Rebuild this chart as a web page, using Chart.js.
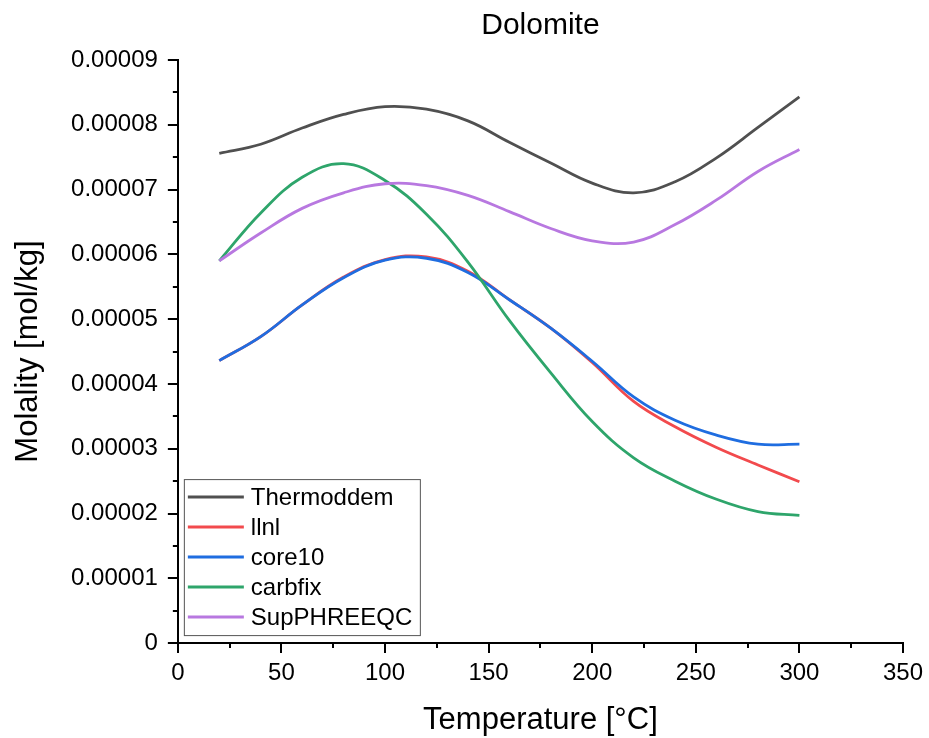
<!DOCTYPE html>
<html>
<head>
<meta charset="utf-8">
<script src="https://cdn.jsdelivr.net/npm/chart.js@4.4.0/dist/chart.umd.min.js"></script>
<style>
  html, body { margin: 0; padding: 0; background: #fff; }
  #wrap { width: 929px; height: 738px; }
</style>
</head>
<body>
<div id="wrap"><canvas id="chart"></canvas></div>
<script>
// temperatures in °C, molalities in units of 1e-5 mol/kg
const temps = [20, 40, 60, 80, 100, 120, 140, 160, 180, 200, 220, 240, 260, 280, 300];
const thermoddem = [7.56, 7.70, 7.95, 8.16, 8.28, 8.24, 8.06, 7.73, 7.41, 7.10, 6.95, 7.12, 7.49, 7.96, 8.43];
const llnl = [4.36, 4.73, 5.22, 5.65, 5.92, 5.96, 5.74, 5.30, 4.86, 4.33, 3.73, 3.34, 3.02, 2.75, 2.49];
const core10 = [4.36, 4.73, 5.22, 5.64, 5.91, 5.94, 5.72, 5.30, 4.86, 4.35, 3.80, 3.44, 3.21, 3.07, 3.07];
const carbfix = [5.90, 6.64, 7.19, 7.40, 7.14, 6.62, 5.88, 4.98, 4.17, 3.42, 2.86, 2.50, 2.22, 2.03, 1.97];
const supphreeqc = [5.90, 6.33, 6.71, 6.95, 7.09, 7.06, 6.91, 6.66, 6.40, 6.21, 6.19, 6.46, 6.84, 7.28, 7.62];

const seriesNames = ['Thermoddem', 'llnl', 'core10', 'carbfix', 'SupPHREEQC'];
const seriesValues = [thermoddem, llnl, core10, carbfix, supphreeqc];
const seriesColors = ['#505050', '#f24a4d', '#1f6de0', '#2ea56b', '#b878e0'];

const FONT = "'Liberation Sans', Arial, sans-serif";

const datasets = seriesNames.map((name, i) => ({
  label: name,
  data: temps.map((t, j) => ({ x: t, y: seriesValues[i][j] * 1e-5 })),
  borderColor: seriesColors[i],
  backgroundColor: seriesColors[i],
  borderWidth: 2.8,
  pointRadius: 0,
  tension: 0.4,
  fill: false,
  order: seriesNames.length - i
}));

// outward major/minor ticks like the original
const tickPlugin = {
  id: 'ticks',
  afterDraw(chart) {
    const ctx = chart.ctx;
    const xs = chart.scales.x, ys = chart.scales.y;
    const area = chart.chartArea;
    ctx.save();
    ctx.strokeStyle = '#000';
    ctx.lineWidth = 2;
    for (let v = xs.min; v <= xs.max + 1e-9; v += 25) {
      const px = Math.round(xs.getPixelForValue(v));
      const len = (v % 50 === 0) ? 10 : 5;
      ctx.beginPath();
      ctx.moveTo(px, area.bottom);
      ctx.lineTo(px, area.bottom + len);
      ctx.stroke();
    }
    for (let k = 0; k <= 18; k++) {
      const v = k * 0.5e-5;
      const py = Math.round(ys.getPixelForValue(v));
      const len = (k % 2 === 0) ? 10 : 5;
      ctx.beginPath();
      ctx.moveTo(area.left, py);
      ctx.lineTo(area.left - len, py);
      ctx.stroke();
    }
    ctx.restore();
  }
};

// legend box inside the plot, lower left
const legendPlugin = {
  id: 'insideLegend',
  afterDraw(chart) {
    const ctx = chart.ctx;
    const area = chart.chartArea;
    const w = 236, h = 156;
    const x0 = area.left + 6, y0 = area.bottom - h - 8;
    ctx.save();
    ctx.fillStyle = '#fff';
    ctx.fillRect(x0, y0, w, h);
    ctx.strokeStyle = '#555';
    ctx.lineWidth = 1;
    ctx.strokeRect(x0 + 0.5, y0 + 0.5, w, h);
    ctx.font = '24px ' + FONT;
    ctx.textBaseline = 'middle';
    chart.data.datasets.forEach((ds, i) => {
      const y = y0 + 18 + i * 30;
      ctx.strokeStyle = ds.borderColor;
      ctx.lineWidth = 3;
      ctx.beginPath();
      ctx.moveTo(x0 + 4, y);
      ctx.lineTo(x0 + 60, y);
      ctx.stroke();
      ctx.fillStyle = '#000';
      ctx.fillText(ds.label, x0 + 67, y + 1);
    });
    ctx.restore();
  }
};

new Chart(document.getElementById('chart'), {
  type: 'line',
  data: { datasets: datasets },
  plugins: [tickPlugin, legendPlugin],
  options: {
    responsive: true,
    maintainAspectRatio: false,
    animation: false,
    layout: { padding: { left: 0, right: 26, top: 0, bottom: 0 } },
    plugins: {
      legend: { display: false },
      tooltip: { enabled: false },
      title: {
        display: true,
        text: 'Dolomite',
        fullSize: false,
        color: '#000',
        font: { family: FONT, size: 30, weight: 'normal', lineHeight: 1.1 },
        padding: { top: 9, bottom: 18 }
      }
    },
    scales: {
      x: {
        type: 'linear',
        min: 0,
        max: 350,
        afterFit: s => { s.paddingRight = 0; },
        grid: { display: false, drawTicks: false },
        border: { display: true, color: '#000', width: 2 },
        ticks: {
          stepSize: 50,
          padding: 16,
          color: '#000',
          font: { family: FONT, size: 24 }
        },
        title: {
          display: true,
          text: 'Temperature [°C]',
          color: '#000',
          font: { family: FONT, size: 31, lineHeight: 1.1 },
          padding: { top: 0, bottom: 0 }
        }
      },
      y: {
        type: 'linear',
        min: 0,
        max: 0.00009,
        grid: { display: false, drawTicks: false },
        border: { display: true, color: '#000', width: 2 },
        ticks: {
          stepSize: 0.00001,
          padding: 20,
          color: '#000',
          font: { family: FONT, size: 24 },
          callback: v => Math.abs(v) < 1e-12 ? '0' : v.toFixed(5)
        },
        title: {
          display: true,
          text: 'Molality [mol/kg]',
          color: '#000',
          font: { family: FONT, size: 31, lineHeight: 1.1 },
          padding: { top: 11, bottom: 6 }
        }
      }
    }
  }
});
</script>
</body>
</html>
